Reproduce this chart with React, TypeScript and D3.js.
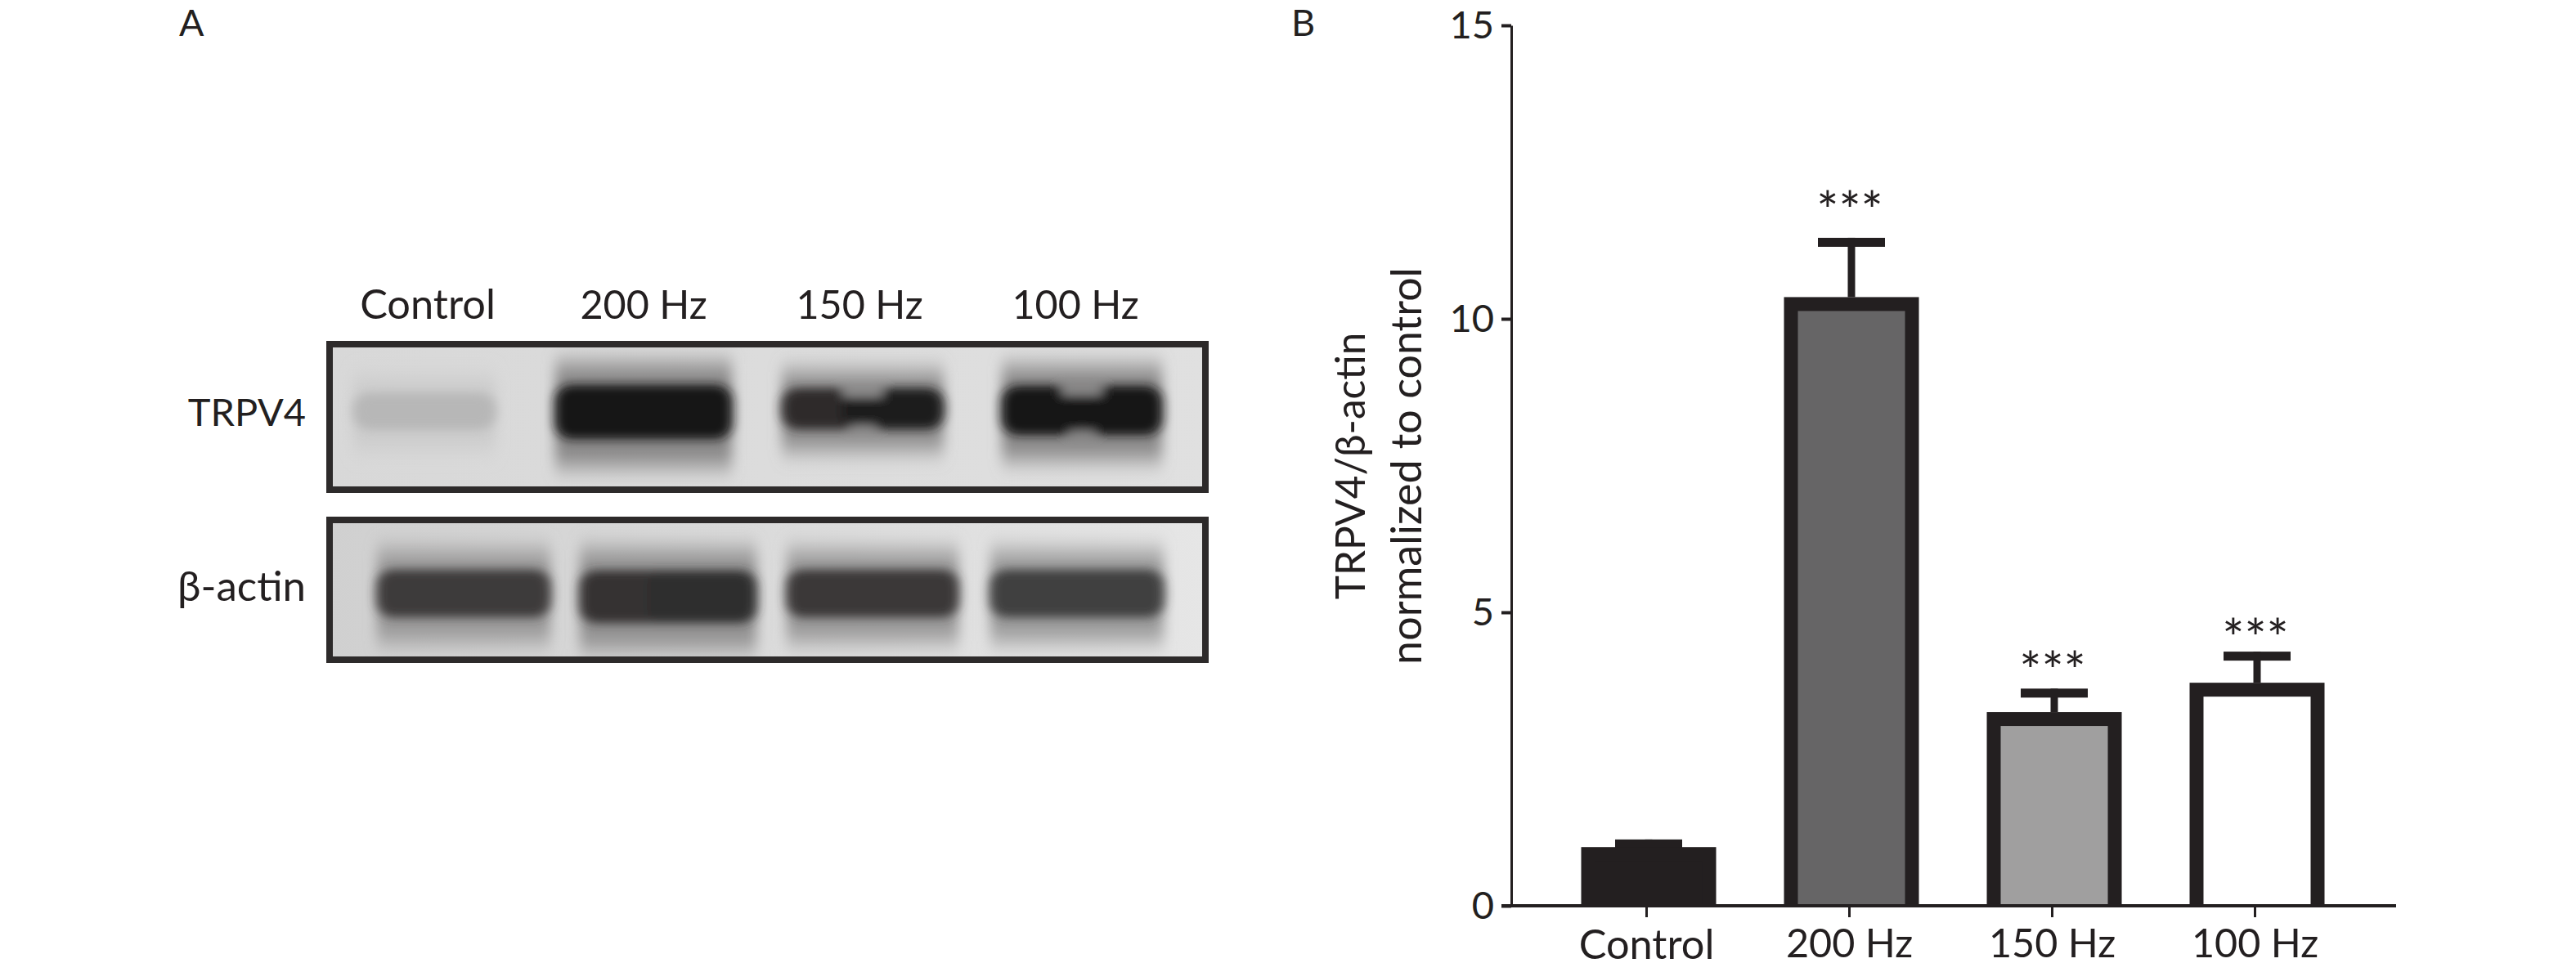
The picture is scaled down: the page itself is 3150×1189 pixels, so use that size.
import { useEffect, useRef } from "react";
import * as d3 from "d3";

// ----- Data ---------------------------------------------------------------
const groups = ["Control", "200 Hz", "150 Hz", "100 Hz"];
const ratioMean = [1.0, 10.37, 3.3, 3.8];
const ratioErrorTop = [1.13, 11.38, 3.7, 4.33];
const starLevel = [null, 11.99, 4.15, 4.71];
const barFill = ["#231f20", "#666566", "#a09f9f", "#ffffff"];
const yTicks = [0, 5, 10, 15];

// band signal read from the blot, left and right half of each lane (0-1)
const trpv4Left = [0.17, 1, 0.88, 1];
const trpv4Right = [0.17, 1, 0.96, 1];
const trpv4Notch = [0, 0, 0.22, 0.2];
const actinLeft = [0.8, 0.84, 0.81, 0.78];
const actinRight = [0.8, 0.87, 0.81, 0.78];
const actinNotch = [0, 0, 0, 0];

const INK = "#231f20";
const FONT = "Lato, 'Open Sans', sans-serif";

const App = () => {
  const svgRef = useRef<SVGSVGElement | null>(null);

  useEffect(() => {
    const svg = d3.select(svgRef.current);
    svg.selectAll("*").remove();
    svg.attr("font-family", FONT).attr("fill", INK);

    const defs = svg.append("defs");
    const labelSize = (d: string) => (d === "Control" ? 50.5 : 48.5);

    // ----- Panel letters ----------------------------------------------------
    svg.append("text").attr("x", 219).attr("y", 44).attr("font-size", 45).text("A");
    svg.append("text").attr("x", 1579).attr("y", 44).attr("font-size", 45).text("B");

    // ----- Blot (A) ---------------------------------------------------------
    const haloBlur = defs.append("filter").attr("id", "haloBlur")
      .attr("x", "-30%").attr("y", "-80%").attr("width", "160%").attr("height", "260%");
    haloBlur.append("feGaussianBlur").attr("stdDeviation", "8 14");
    const coreBlur = defs.append("filter").attr("id", "coreBlur")
      .attr("x", "-30%").attr("y", "-60%").attr("width", "160%").attr("height", "220%");
    coreBlur.append("feGaussianBlur").attr("stdDeviation", "7 6");

    const shade = d3.scaleLinear<string>().domain([0, 1]).range(["#d8d8d8", "#161414"]);

    const labelX = d3.scalePoint<string>().domain(groups).range([523, 1315]);
    svg.append("g").selectAll("text").data(groups).join("text")
      .attr("x", (d) => labelX(d) as number)
      .attr("y", 390)
      .attr("text-anchor", "middle")
      .attr("font-size", labelSize)
      .text((d) => d);

    const blots = [
      {
        id: "trpv4", name: "TRPV4", nameSize: 47, top: 417, bottom: 603, nameY: 521, range: [519, 1323],
        left: trpv4Left, right: trpv4Right, notch: trpv4Notch, widths: [190, 232, 214, 212],
        thick: [44, 66, 50, 60], centerY: [503, 504, 500, 502], from: "#d8d8d8", to: "#e0e0e0",
      },
      {
        id: "actin", name: "β-actin", nameSize: 51, top: 632, bottom: 811, nameY: 735, range: [567, 1317],
        left: actinLeft, right: actinRight, notch: actinNotch, widths: [228, 232, 226, 228],
        thick: [58, 64, 58, 58], centerY: [726, 730, 726, 726], from: "#d0d0d0", to: "#e6e6e6",
      },
    ];

    blots.forEach((b) => {
      const left = 399;
      const right = 1478;
      const w = 8;
      const grad = defs.append("linearGradient").attr("id", `${b.id}Bg`);
      grad.append("stop").attr("offset", "0%").attr("stop-color", b.from);
      grad.append("stop").attr("offset", "100%").attr("stop-color", b.to);
      defs.append("clipPath").attr("id", `${b.id}Clip`).append("rect")
        .attr("x", left).attr("y", b.top).attr("width", right - left).attr("height", b.bottom - b.top);

      const lane = d3.scalePoint<string>().domain(groups).range(b.range as [number, number]);
      const g = svg.append("g").attr("clip-path", `url(#${b.id}Clip)`);
      g.append("rect")
        .attr("x", left).attr("y", b.top)
        .attr("width", right - left).attr("height", b.bottom - b.top)
        .attr("fill", `url(#${b.id}Bg)`);

      // soft smear around each band
      g.selectAll(".halo").data(groups).join("rect")
        .attr("class", "halo")
        .attr("x", (d, i) => (lane(d) as number) - b.widths[i] / 2 + 8)
        .attr("y", (d, i) => b.centerY[i] - b.thick[i] * 0.9)
        .attr("width", (d, i) => b.widths[i] - 16)
        .attr("height", (d, i) => b.thick[i] * 1.9)
        .attr("fill", (d, i) => shade(Math.max(b.left[i], b.right[i]) * 0.42))
        .attr("filter", "url(#haloBlur)");

      // the dark core: two lobes blurred together, pinched in the middle
      groups.forEach((d, i) => {
        const cx = lane(d) as number;
        const bw = b.widths[i] - 16;
        const th = b.thick[i];
        const cy = b.centerY[i];
        const overlap = 26;
        const core = g.append("g").attr("filter", "url(#coreBlur)");
        [b.left[i], b.right[i]].forEach((v, side) => {
          core.append("rect")
            .attr("x", side === 0 ? cx - bw / 2 : cx - overlap)
            .attr("y", cy - th / 2)
            .attr("width", bw / 2 + overlap)
            .attr("height", th)
            .attr("rx", 20)
            .attr("fill", shade(v));
        });
        if (b.notch[i] > 0) {
          const halo = shade(Math.max(b.left[i], b.right[i]) * 0.42);
          core.append("rect")
            .attr("x", cx - 24).attr("y", cy - th / 2 - 2)
            .attr("width", 48).attr("height", th * b.notch[i] + 2)
            .attr("fill", halo);
          core.append("rect")
            .attr("x", cx - 16).attr("y", cy + th / 2 - th * b.notch[i] * 0.45)
            .attr("width", 32).attr("height", th * b.notch[i] * 0.45 + 2)
            .attr("fill", halo);
        }
      });

      svg.append("rect")
        .attr("x", left + w / 2).attr("y", b.top + w / 2)
        .attr("width", right - left - w).attr("height", b.bottom - b.top - w)
        .attr("fill", "none").attr("stroke", "#2d2a2a").attr("stroke-width", w);

      svg.append("text")
        .attr("x", 374).attr("y", b.nameY)
        .attr("text-anchor", "end").attr("font-size", b.nameSize)
        .text(b.name);
    });

    // ----- Bar chart (B) ----------------------------------------------------
    const x = d3.scalePoint<string>().domain(groups).range([2013, 2757]);
    const y = d3.scaleLinear().domain([0, 15]).range([1108, 31]);
    const barW = 165;
    const barStroke = 17;
    const barShift = 3;

    const yAxis = svg.append("g")
      .attr("transform", "translate(1848,0)")
      .call(d3.axisLeft(y).tickValues(yTicks).tickSize(12).tickSizeOuter(0).tickPadding(9));
    yAxis.select(".domain").attr("stroke", INK).attr("stroke-width", 3);
    yAxis.selectAll("line").attr("stroke", INK).attr("stroke-width", 4);
    yAxis.selectAll("text")
      .attr("font-family", FONT).attr("font-size", 47).attr("fill", INK);

    // error bars first, the bar top sits over the stem
    svg.append("g").selectAll("line").data(groups).join("line")
      .attr("x1", (d) => (x(d) as number) + barShift)
      .attr("x2", (d) => (x(d) as number) + barShift)
      .attr("y1", (d, i) => y(ratioErrorTop[i]))
      .attr("y2", (d, i) => y(ratioMean[i]))
      .attr("stroke", INK)
      .attr("stroke-width", 9);
    svg.append("g").selectAll("rect").data(groups).join("rect")
      .attr("x", (d) => (x(d) as number) + barShift - 41)
      .attr("y", (d, i) => y(ratioErrorTop[i]))
      .attr("width", 82)
      .attr("height", 11)
      .attr("fill", INK);

    // dark outer block with the fill set inside it, open at the baseline
    svg.append("g").selectAll("rect").data(groups).join("rect")
      .attr("x", (d) => (x(d) as number) + barShift - barW / 2)
      .attr("y", (d, i) => y(ratioMean[i]))
      .attr("width", barW)
      .attr("height", (d, i) => y(0) - y(ratioMean[i]))
      .attr("fill", INK);
    svg.append("g").selectAll("rect").data(groups).join("rect")
      .attr("x", (d) => (x(d) as number) + barShift - barW / 2 + barStroke)
      .attr("y", (d, i) => y(ratioMean[i]) + barStroke)
      .attr("width", barW - barStroke * 2)
      .attr("height", (d, i) => y(0) - y(ratioMean[i]) - barStroke)
      .attr("fill", (d, i) => barFill[i]);

    svg.append("g").selectAll("text").data(groups.filter((_, i) => starLevel[i] !== null)).join("text")
      .attr("x", (d) => (x(d) as number) + 1)
      .attr("y", (d) => y(starLevel[groups.indexOf(d)] as number) + 34)
      .attr("text-anchor", "middle")
      .attr("font-size", 64)
      .text("***");

    const xAxis = svg.append("g")
      .attr("transform", "translate(0,1108)")
      .call(d3.axisBottom(x).tickSize(14).tickSizeOuter(0).tickPadding(15));
    xAxis.select(".domain").attr("d", "M1836,0H2930").attr("stroke", INK).attr("stroke-width", 4);
    xAxis.selectAll("line").attr("stroke", INK).attr("stroke-width", 3);
    xAxis.selectAll("text")
      .attr("font-family", FONT).attr("font-size", (d: any) => labelSize(d)).attr("fill", INK);

    const yTitle = ["TRPV4/β-actin", "normalized to control"];
    const yTitleSize = [49.5, 52];
    svg.append("g").selectAll("text").data(yTitle).join("text")
      .attr("transform", (_, i) => `translate(${1669 + i * 69},570) rotate(-90)`)
      .attr("text-anchor", "middle")
      .attr("font-size", (_, i) => yTitleSize[i])
      .text((d) => d);
  }, []);

  return (
    <svg
      ref={svgRef}
      width={3150}
      height={1189}
      viewBox="0 0 3150 1189"
      style={{ position: "absolute", left: 0, top: 0, background: "#fff", display: "block" }}
    />
  );
};

export default App;
